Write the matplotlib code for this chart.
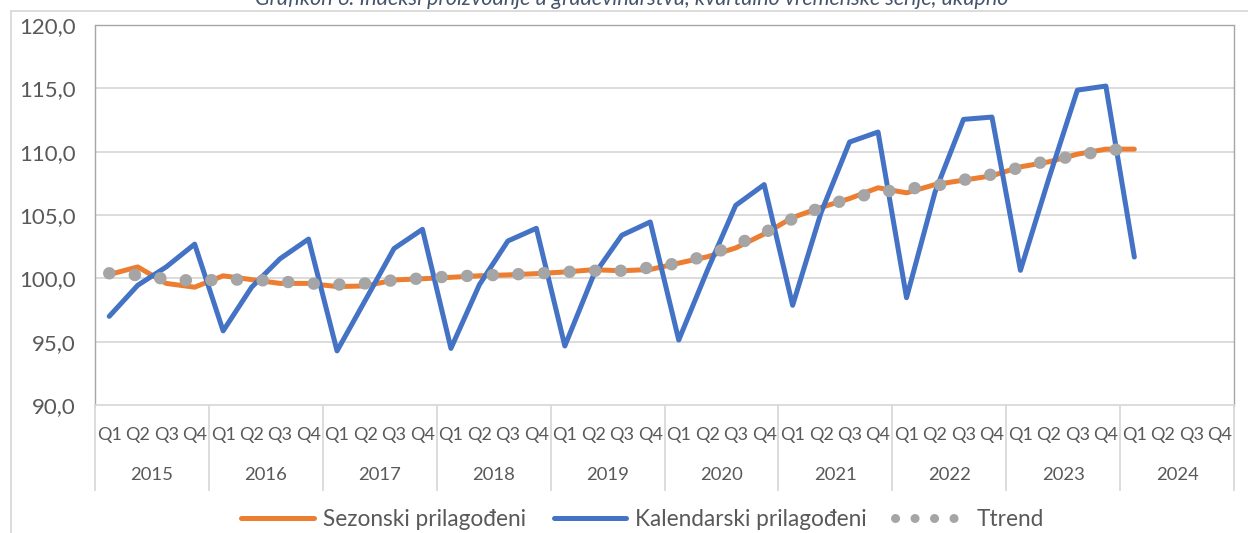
import matplotlib
matplotlib.use("Agg")
import matplotlib.pyplot as plt
from matplotlib.lines import Line2D
import numpy as np

plt.rcParams['font.family'] = ['Lato', 'DejaVu Sans']

quarters = ['Q1', 'Q2', 'Q3', 'Q4']
years = ['2015', '2016', '2017', '2018', '2019', '2020', '2021', '2022', '2023', '2024']

sezonski = [100.3, 100.9, 99.6, 99.3, 100.2, 99.9, 99.6, 99.6, 99.35, 99.4,
            99.87, 99.97, 100.08, 100.2, 100.27, 100.37, 100.5, 100.68, 100.6, 100.7,
            101.2, 101.7, 102.4, 103.5, 104.8, 105.6, 106.3, 107.15, 106.75, 107.4,
            107.75, 108.1, 108.8, 109.2, 109.8, 110.2, 110.2]
kalendarski = [97.0, 99.45, 100.9, 102.7, 95.85, 99.3, 101.55, 103.1, 94.27, 98.3,
               102.35, 103.87, 94.47, 99.5, 102.95, 103.95, 94.66, 100.2, 103.4, 104.45,
               95.13, 100.6, 105.76, 107.4, 97.87, 105.2, 110.76, 111.55, 98.47, 106.8,
               112.55, 112.73, 100.63, 107.9, 114.86, 115.18, 101.68]
trend = [100.4, 100.25, 99.95, 99.8, 99.9, 99.9, 99.75, 99.6, 99.5, 99.6,
         99.85, 100.0, 100.15, 100.22, 100.3, 100.38, 100.5, 100.6, 100.6, 100.85,
         101.2, 101.8, 102.65, 103.6, 104.7, 105.6, 106.3, 106.8, 107.05, 107.3,
         107.77, 108.2, 108.75, 109.3, 109.7, 110.1, 110.25]

yticks = [90, 95, 100, 105, 110, 115, 120]

W, H = 1248, 533
fig = plt.figure(figsize=(W / 100, H / 100), dpi=100)

ax = fig.add_axes([95 / W, 1 - 405 / H, (1234 - 95) / W, (405 - 25) / H])

ncat = len(years) * len(quarters)
x = np.arange(len(sezonski))

grid_c = '#D9D9D9'
text_c = '#595959'

ax.set_xlim(-0.5, ncat - 0.5)
ax.set_ylim(min(yticks), max(yticks))
ax.set_yticks(yticks)
ax.set_yticklabels([f"{v:.1f}".replace('.', ',') for v in yticks], fontsize=16, color=text_c)
ax.tick_params(axis='y', length=0, pad=14)
ax.set_xticks([])

for v in yticks[1:-1]:
    ax.axhline(v, color=grid_c, lw=1.3, zorder=1)

for side in ['top', 'left', 'right']:
    ax.spines[side].set_color('#A6A6A6')
    ax.spines[side].set_linestyle((0, (1, 1)))
    ax.spines[side].set_linewidth(1.0)
ax.spines['bottom'].set_color(grid_c)
ax.spines['bottom'].set_linewidth(1.3)

l1, = ax.plot(x, sezonski, color='#ED7D31', lw=3.6, solid_capstyle='round',
              solid_joinstyle='round', zorder=3, label='Sezonski prilagođeni')
l2, = ax.plot(x, kalendarski, color='#4472C4', lw=3.6, solid_capstyle='round',
              solid_joinstyle='round', zorder=4, label='Kalendarski prilagođeni')
l3, = ax.plot(x, trend, color='#A5A5A5', lw=9, linestyle=(0, (0.01, 2.04)),
              dash_capstyle='round', zorder=5, label='Ttrend')

# multi-level category axis
sep_bottom = -(490 - 405) / (405 - 25)
q_y = -(435 - 405) / (405 - 25)
yr_y = -(475 - 405) / (405 - 25)
trans = ax.get_xaxis_transform()
for j in range(len(years) + 1):
    ax.plot([j * 4 - 0.5, j * 4 - 0.5], [0, sep_bottom], transform=trans,
            color=grid_c, lw=1.3, clip_on=False)
for j, yr in enumerate(years):
    for qi, q in enumerate(quarters):
        ax.text(j * 4 + qi, q_y, q, transform=trans, ha='center', va='center',
                fontsize=13, color=text_c)
    ax.text(j * 4 + 1.5, yr_y, yr, transform=trans, ha='center', va='center',
            fontsize=13.3, color=text_c)

# legend
h3 = Line2D([], [], color='#A5A5A5', lw=6.5, linestyle=(0, (0.01, 2.15)), dash_capstyle='round')
fig.legend([l1, l2, h3], ['Sezonski prilagođeni', 'Kalendarski prilagođeni', 'Ttrend'],
           loc='center', bbox_to_anchor=(0.515, 1 - 519 / H), ncol=3, frameon=False,
           fontsize=16.3, handlelength=3.2, handletextpad=0.4, columnspacing=1.25,
           labelcolor=text_c)

# outer chart border (partially visible)
fig.add_artist(Line2D([11 / W, 1], [1 - 11 / H, 1 - 11 / H], color=grid_c, lw=1.3,
                      transform=fig.transFigure))
fig.add_artist(Line2D([11 / W, 11 / W], [0, 1 - 11 / H], color=grid_c, lw=1.3,
                      transform=fig.transFigure))

# title (cut off at the top edge, as in the reference)
fig.text(632 / W, 1 - 5 / H,
         'Grafikon 6: Indeksi proizvodnje u građevinarstvu, kvartalno vremenske serije, ukupno',
         ha='center', va='baseline', fontsize=15.5, style='italic', color='#44546A')

fig.savefig('out.png', dpi=100)
